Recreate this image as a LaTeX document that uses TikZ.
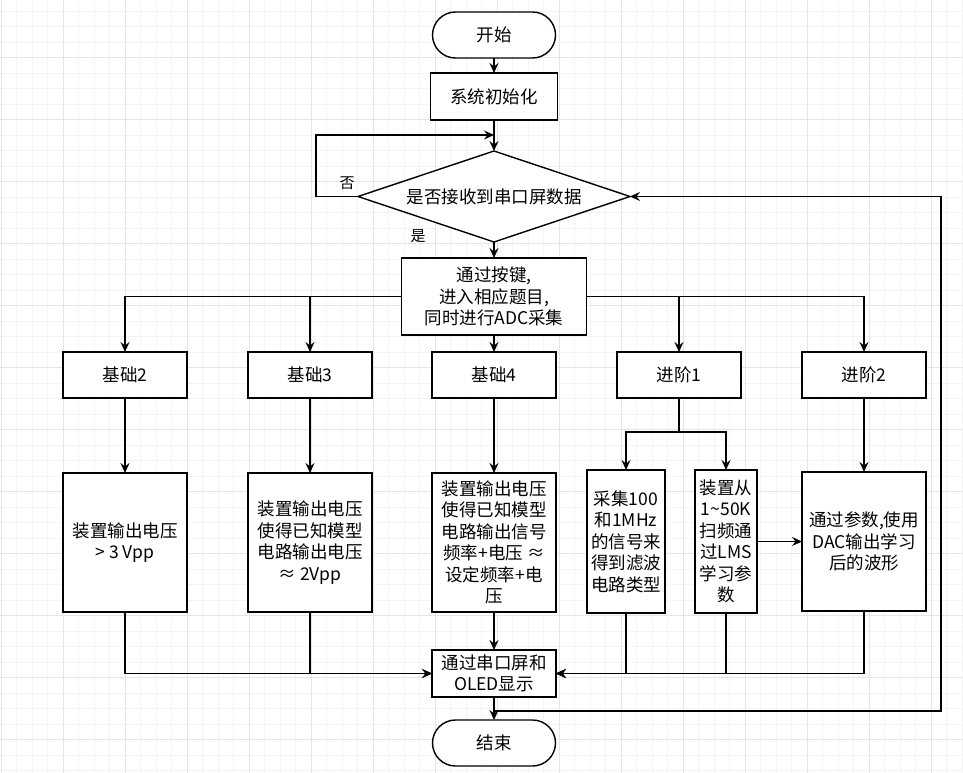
\documentclass[tikz,border=0pt]{standalone}
\usepackage{fontspec}
\setmainfont{Noto Sans CJK SC}
\usetikzlibrary{shapes,arrows.meta,positioning,calc}
\usepackage{xcolor}

\begin{document}
\begin{tikzpicture}[
    x=1pt, y=-1pt,
    font=\fontsize{17.5pt}{21.5pt}\selectfont,
    box/.style={rectangle, draw, line width=1.4pt, fill=white, text centered, align=center, minimum width=124pt, minimum height=46pt, inner sep=0pt, outer sep=0pt},
    tall/.style={box, minimum height=139pt},
    term/.style={box, rounded corners=23pt, minimum width=123pt},
    judge/.style={diamond, draw, line width=1.4pt, fill=white, minimum width=272pt, minimum height=91pt, inner sep=0pt, outer sep=0pt, aspect=3},
    arrow/.style={-{Stealth[length=10pt,width=9pt,inset=3.5pt]}, line width=1.4pt},
    tag/.style={draw=none, font=\fontsize{15pt}{18pt}\selectfont},
    gridminor/.style={gray!9, line width=0.8pt},
    gridmajor/.style={gray!20, line width=0.8pt}
]

% Background grid
\useasboundingbox (0,0) rectangle (963,773);
\foreach \gx in {1,16.5,...,963} \draw[gridminor] (\gx,0) -- (\gx,773);
\foreach \gy in {-4.5,11,...,773} \draw[gridminor] (0,\gy) -- (963,\gy);
\foreach \gx in {1,63,...,963} \draw[gridmajor] (\gx,0) -- (\gx,773);
\foreach \gy in {-4.5,57.5,...,773} \draw[gridmajor] (0,\gy) -- (963,\gy);

% Main column
\node[term] (start) at (494,35) {开始};
\node[box, below=15pt of start, minimum width=127pt, minimum height=47pt] (init) {系统初始化};
\node[judge, below=31pt of init] (ask) {是否接收到串口屏数据};
\node[box, below=16pt of ask, minimum width=185pt, minimum height=77pt] (keys) {通过按键,\\进入相应题目,\\同时进行ADC采集};

% Task row
\node[box, below=17pt of keys] (l4) {基础4};
\node[box, left=60pt of l4] (l3) {基础3};
\node[box, left=61pt of l3] (l2) {基础2};
\node[box, right=61pt of l4] (a1) {进阶1};
\node[box, right=61pt of a1] (a2) {进阶2};

% Task details
\node[tall, below=75pt of l2] (b2) {装置输出电压\\> 3 Vpp};
\node[tall, below=75pt of l3] (b3) {装置输出电压\\使得已知模型\\电路输出电压\\≈ 2Vpp};
\node[tall, below=75pt of l4] (b4) {装置输出电压\\使得已知模型\\电路输出信号\\频率+电压 ≈\\设定频率+电\\压};
\node[tall, minimum width=78pt, minimum height=143pt] (collect) at (626,541.5) {采集100\\和1MHz\\的信号来\\得到滤波\\电路类型};
\node[tall, minimum width=62pt, minimum height=143pt] (sweep) at (726,541.5) {装置从\\1\textasciitilde50K\\扫频通\\过LMS\\学习参\\数};
\node[tall, below=74pt of a2] (dac) {通过参数,使用\\DAC输出学习\\后的波形};

% Output
\node[box, below=38pt of b4, minimum height=47pt] (show) {通过串口屏和\\OLED显示};
\node[term, below=23pt of show] (end) {结束};

% Labels
\node[tag] (no) at (347,183) {否};
\node[tag] (yes) at (418,236) {是};

% Arrows
\coordinate (lloop) at (316,135);
\coordinate (rloop) at (941,711);
\draw[arrow] (start) -- (init);
\draw[arrow] (init) -- (ask);
\draw[arrow] (ask.west) -| (lloop) -- (lloop -| init.south);
\draw[arrow] (ask) -- (keys);
\draw[arrow] (keys.west) -| (l2);
\draw[arrow] (keys.west) -| (l3);
\draw[arrow] (keys) -- (l4);
\draw[arrow] (keys.east) -| (a1);
\draw[arrow] (keys.east) -| (a2);
\draw[arrow] (l2) -- (b2);
\draw[arrow] (l3) -- (b3);
\draw[arrow] (l4) -- (b4);
\draw[arrow] (a1.south) -- ++(0,34) -| (collect);
\draw[arrow] (a1.south) -- ++(0,34) -| (sweep);
\draw[arrow] (a2) -- (dac);
\draw[arrow] (sweep) -- (dac);
\draw[arrow] (b2) |- (show);
\draw[arrow] (b3) |- (show);
\draw[arrow] (b4) -- (show);
\draw[arrow] (collect) |- (show);
\draw[arrow] (sweep) |- (show);
\draw[arrow] (dac) |- (show);
\draw[arrow] (show) -- (end);
\draw[arrow] (show.south) |- (rloop) |- (ask.east);

\end{tikzpicture}
\end{document}
